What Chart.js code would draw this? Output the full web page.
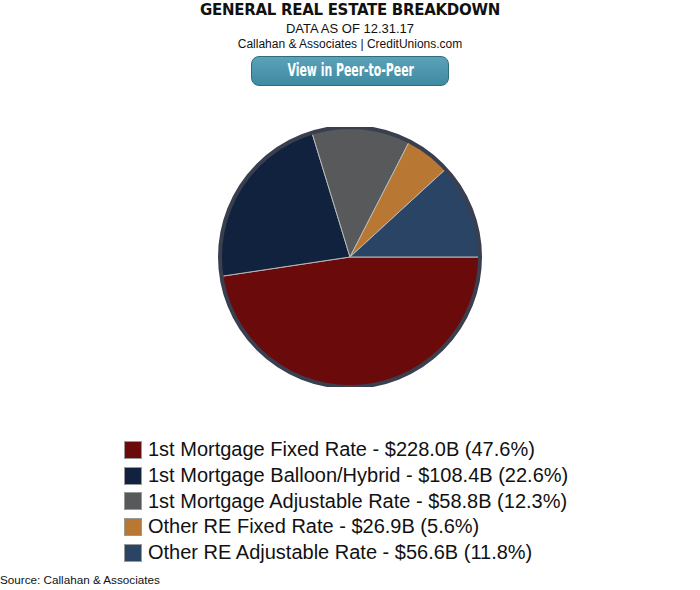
<!DOCTYPE html>
<html>
<head>
<meta charset="utf-8">
<script src="https://cdn.jsdelivr.net/npm/chart.js@4/dist/chart.umd.min.js"></script>
<style>
  html, body { margin: 0; padding: 0; background: #fff; }
  body { width: 700px; height: 590px; position: relative; overflow: hidden; font-family: "Liberation Sans", Arial, sans-serif; color: #111; }
  #title { position: absolute; left: 0; width: 700px; top: 1px; text-align: center; font: bold 15px "DejaVu Sans", sans-serif; letter-spacing: -0.3px; }
  #sub1 { position: absolute; left: 0; width: 700px; top: 21px; text-align: center; font-size: 13px; }
  #sub2 { position: absolute; left: 0; width: 700px; top: 37px; text-align: center; font-size: 12px; }
  #btn { position: absolute; left: 251px; top: 56px; width: 196px; height: 28px; border: 1px solid #2e6d80; border-radius: 8px;
         background: linear-gradient(#5aa2b8, #3f8aa2); color: #fff; text-align: center; line-height: 28px; }
  #btn span { display: inline-block; font: bold 17px "DejaVu Sans", sans-serif; transform: scaleX(0.64); transform-origin: center; white-space: nowrap; }
  #wrap { position: absolute; left: 0; top: 127px; width: 700px; height: 260px; }
  #legend { position: absolute; left: 124px; top: 437px; }
  .li { height: 25.7px; display: flex; align-items: center; white-space: nowrap; }
  .sw { width: 16px; height: 16px; border: 1px solid #999; margin-right: 6px; flex: none; }
  .lt { font-size: 20px; color: #111; }
  #source { position: absolute; left: 0; top: 573px; font-size: 11.7px; }
</style>
</head>
<body>
<div id="title">GENERAL REAL ESTATE BREAKDOWN</div>
<div id="sub1">DATA AS OF 12.31.17</div>
<div id="sub2">Callahan &amp; Associates | CreditUnions.com</div>
<div id="btn"><span>View in Peer-to-Peer</span></div>
<div id="wrap"><canvas id="c"></canvas></div>
<div id="legend"></div>
<div id="source">Source: Callahan &amp; Associates</div>
<script>
const categories = [
  "1st Mortgage Fixed Rate",
  "1st Mortgage Balloon/Hybrid",
  "1st Mortgage Adjustable Rate",
  "Other RE Fixed Rate",
  "Other RE Adjustable Rate"
];
const valuesB = [228.0, 108.4, 58.8, 26.9, 56.6];
const percents = [47.6, 22.6, 12.3, 5.6, 11.8];
const colors = ["#6b0a0b", "#10223d", "#58595b", "#b87834", "#2a4466"];

const ringPlugin = {
  id: 'ring',
  afterDatasetsDraw(chart) {
    const arc = chart.getDatasetMeta(0).data[0];
    if (!arc) return;
    const ctx = chart.ctx;
    ctx.save();
    ctx.beginPath();
    ctx.arc(arc.x, arc.y, arc.outerRadius + 0.5, 0, Math.PI * 2);
    ctx.lineWidth = 4;
    ctx.strokeStyle = "#3a3f4f";
    ctx.stroke();
    ctx.restore();
  }
};

const chart = new Chart(document.getElementById('c'), {
  type: 'pie',
  data: {
    labels: categories,
    datasets: [{
      data: valuesB,
      backgroundColor: colors,
      borderColor: "#b8b8b8",
      borderWidth: 1
    }]
  },
  options: {
    responsive: true,
    maintainAspectRatio: false,
    animation: false,
    rotation: 90,
    layout: { padding: 0 },
    plugins: { legend: { display: false }, tooltip: { enabled: false }, title: { display: false } }
  },
  plugins: [ringPlugin]
});

const legend = document.getElementById('legend');
categories.forEach((cat, i) => {
  const row = document.createElement('div');
  row.className = 'li';
  const sw = document.createElement('span');
  sw.className = 'sw';
  sw.style.background = colors[i];
  const t = document.createElement('span');
  t.className = 'lt';
  t.textContent = cat + " - $" + valuesB[i].toFixed(1) + "B (" + percents[i].toFixed(1) + "%)";
  row.appendChild(sw);
  row.appendChild(t);
  legend.appendChild(row);
});
</script>
</body>
</html>
